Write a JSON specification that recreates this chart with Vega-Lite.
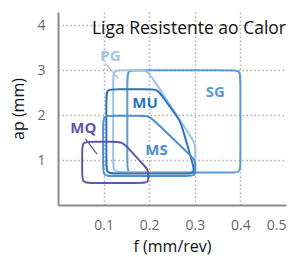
{
  "$schema": "https://vega.github.io/schema/vega-lite/v6.json",
  "width": 228,
  "height": 193,
  "autosize": {"type": "none"},
  "padding": {"left": 58, "top": 12, "right": 9, "bottom": 52},
  "background": "white",
  "title": {"text": "Liga Resistente ao Calor", "anchor": "end", "frame": "group", "orient": "top", "offset": -25, "fontSize": 17.5, "fontWeight": "normal", "font": "Open Sans", "color": "#111111"},
  "config": {
    "view": {"stroke": null},
    "font": "Open Sans",
    "axis": {
      "domainColor": "#8a8a8a",
      "domainWidth": 2,
      "ticks": false,
      "labelColor": "#666666",
      "labelFontSize": 14,
      "labelFont": "Open Sans",
      "titleFont": "Open Sans",
      "titleFontSize": 16,
      "titleFontWeight": "normal",
      "titleColor": "#111111",
      "gridColor": "#b0b0b0",
      "gridDash": [1.5, 2.5],
      "gridWidth": 1.5
    }
  },
  "datasets": {
    "shapes": [
      {"s": "SG", "i": 1, "x": 0.152, "y": 2.8},
      {"s": "SG", "i": 2, "x": 0.152, "y": 3.0},
      {"s": "SG", "i": 3, "x": 0.172, "y": 3.0},
      {"s": "SG", "i": 4, "x": 0.38, "y": 3.0},
      {"s": "SG", "i": 5, "x": 0.4, "y": 3.0},
      {"s": "SG", "i": 6, "x": 0.4, "y": 2.8},
      {"s": "SG", "i": 7, "x": 0.4, "y": 0.92},
      {"s": "SG", "i": 8, "x": 0.4, "y": 0.722},
      {"s": "SG", "i": 9, "x": 0.38, "y": 0.722},
      {"s": "SG", "i": 10, "x": 0.172, "y": 0.722},
      {"s": "SG", "i": 11, "x": 0.152, "y": 0.722},
      {"s": "SG", "i": 12, "x": 0.152, "y": 0.92},
      {"s": "PG", "i": 1, "x": 0.121, "y": 2.8},
      {"s": "PG", "i": 2, "x": 0.121, "y": 3.0},
      {"s": "PG", "i": 3, "x": 0.141, "y": 3.0},
      {"s": "PG", "i": 4, "x": 0.176, "y": 3.0},
      {"s": "PG", "i": 5, "x": 0.196, "y": 3.0},
      {"s": "PG", "i": 6, "x": 0.207, "y": 2.833},
      {"s": "PG", "i": 7, "x": 0.29, "y": 1.544},
      {"s": "PG", "i": 8, "x": 0.301, "y": 1.378},
      {"s": "PG", "i": 9, "x": 0.301, "y": 1.178},
      {"s": "PG", "i": 10, "x": 0.301, "y": 0.933},
      {"s": "PG", "i": 11, "x": 0.301, "y": 0.733},
      {"s": "PG", "i": 12, "x": 0.281, "y": 0.733},
      {"s": "PG", "i": 13, "x": 0.141, "y": 0.733},
      {"s": "PG", "i": 14, "x": 0.121, "y": 0.733},
      {"s": "PG", "i": 15, "x": 0.121, "y": 0.933},
      {"s": "MU", "i": 1, "x": 0.106, "y": 2.378},
      {"s": "MU", "i": 2, "x": 0.106, "y": 2.578},
      {"s": "MU", "i": 3, "x": 0.126, "y": 2.578},
      {"s": "MU", "i": 4, "x": 0.198, "y": 2.578},
      {"s": "MU", "i": 5, "x": 0.218, "y": 2.578},
      {"s": "MU", "i": 6, "x": 0.229, "y": 2.416},
      {"s": "MU", "i": 7, "x": 0.257, "y": 2.029},
      {"s": "MU", "i": 8, "x": 0.268, "y": 1.867},
      {"s": "MU", "i": 9, "x": 0.274, "y": 1.674},
      {"s": "MU", "i": 10, "x": 0.296, "y": 0.903},
      {"s": "MU", "i": 11, "x": 0.301, "y": 0.7},
      {"s": "MU", "i": 12, "x": 0.281, "y": 0.7},
      {"s": "MU", "i": 13, "x": 0.126, "y": 0.7},
      {"s": "MU", "i": 14, "x": 0.106, "y": 0.7},
      {"s": "MU", "i": 15, "x": 0.106, "y": 0.9},
      {"s": "MS", "i": 1, "x": 0.099, "y": 1.789},
      {"s": "MS", "i": 2, "x": 0.099, "y": 1.989},
      {"s": "MS", "i": 3, "x": 0.119, "y": 1.989},
      {"s": "MS", "i": 4, "x": 0.18, "y": 1.989},
      {"s": "MS", "i": 5, "x": 0.2, "y": 1.989},
      {"s": "MS", "i": 6, "x": 0.214, "y": 1.849},
      {"s": "MS", "i": 7, "x": 0.29, "y": 1.108},
      {"s": "MS", "i": 8, "x": 0.301, "y": 1.0},
      {"s": "MS", "i": 9, "x": 0.301, "y": 0.844},
      {"s": "MS", "i": 10, "x": 0.301, "y": 0.8},
      {"s": "MS", "i": 11, "x": 0.301, "y": 0.644},
      {"s": "MS", "i": 12, "x": 0.281, "y": 0.644},
      {"s": "MS", "i": 13, "x": 0.119, "y": 0.644},
      {"s": "MS", "i": 14, "x": 0.099, "y": 0.644},
      {"s": "MS", "i": 15, "x": 0.099, "y": 0.844},
      {"s": "MQ", "i": 1, "x": 0.053, "y": 1.189},
      {"s": "MQ", "i": 2, "x": 0.053, "y": 1.411},
      {"s": "MQ", "i": 3, "x": 0.075, "y": 1.411},
      {"s": "MQ", "i": 4, "x": 0.119, "y": 1.411},
      {"s": "MQ", "i": 5, "x": 0.141, "y": 1.411},
      {"s": "MQ", "i": 6, "x": 0.156, "y": 1.247},
      {"s": "MQ", "i": 7, "x": 0.189, "y": 0.876},
      {"s": "MQ", "i": 8, "x": 0.198, "y": 0.778},
      {"s": "MQ", "i": 9, "x": 0.198, "y": 0.644},
      {"s": "MQ", "i": 10, "x": 0.198, "y": 0.622},
      {"s": "MQ", "i": 11, "x": 0.198, "y": 0.489},
      {"s": "MQ", "i": 12, "x": 0.18, "y": 0.489},
      {"s": "MQ", "i": 13, "x": 0.075, "y": 0.489},
      {"s": "MQ", "i": 14, "x": 0.053, "y": 0.489},
      {"s": "MQ", "i": 15, "x": 0.053, "y": 0.711}
    ],
    "labels": [
      {"s": "PG", "x": 0.115, "y": 3.33},
      {"s": "MU", "x": 0.191, "y": 2.278},
      {"s": "SG", "x": 0.345, "y": 2.52},
      {"s": "MS", "x": 0.216, "y": 1.222},
      {"s": "MQ", "x": 0.0555, "y": 1.711}
    ],
    "leaders": [
      {"s": "PG", "x": 0.104, "y": 3.156, "x2": 0.132, "y2": 2.822},
      {"s": "MQ", "x": 0.06, "y": 1.48, "x2": 0.086, "y2": 1.13}
    ]
  },
  "encoding": {
    "x": {
      "field": "x", "type": "quantitative",
      "scale": {"domain": [0, 0.5], "nice": false, "zero": false},
      "axis": {
        "title": "f (mm/rev)",
        "values": [0.1, 0.2, 0.3, 0.4, 0.5],
        "format": ".1f",
        "labelPadding": 13,
        "titlePadding": 6,
        "gridOpacity": {"condition": {"test": "datum.value > 0.45", "value": 0}, "value": 1}
      }
    },
    "y": {
      "field": "y", "type": "quantitative",
      "scale": {"domain": [0, 4.3], "nice": false, "zero": false},
      "axis": {
        "title": "ap (mm)",
        "values": [1, 2, 3, 4],
        "labelPadding": 13,
        "titlePadding": 10
      }
    },
    "color": {
      "field": "s", "type": "nominal", "legend": null,
      "scale": {
        "domain": ["SG", "PG", "MU", "MS", "MQ"],
        "range": ["#5b9bd5", "#9dc3e6", "#2a74bc", "#4d8fd2", "#6455aa"]
      }
    }
  },
  "layer": [
    {
      "data": {"name": "shapes"},
      "mark": {"type": "line", "interpolate": "basis-closed", "strokeWidth": 2},
      "encoding": {
        "order": {"field": "i", "type": "quantitative"}
      }
    },
    {
      "data": {"name": "leaders"},
      "mark": {"type": "rule", "strokeWidth": 1.2},
      "encoding": {
        "x2": {"field": "x2"},
        "y2": {"field": "y2"}
      }
    },
    {
      "data": {"name": "labels"},
      "mark": {"type": "text", "fontSize": 15, "fontWeight": "bold", "font": "Open Sans", "align": "center", "baseline": "middle"},
      "encoding": {
        "text": {"field": "s"}
      }
    }
  ]
}
